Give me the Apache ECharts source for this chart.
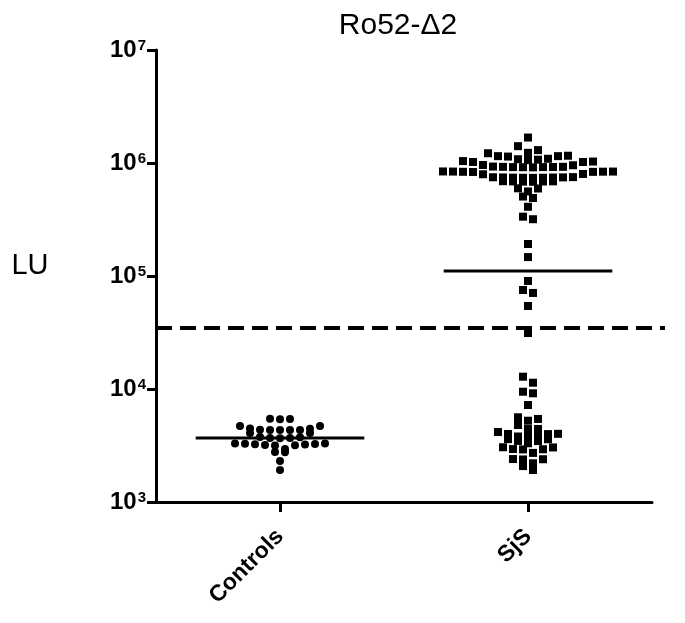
<!DOCTYPE html>
<html>
<head>
<meta charset="utf-8">
<script src="https://cdn.jsdelivr.net/npm/echarts@6/dist/echarts.min.js"></script>
<style>
html,body{margin:0;padding:0;background:#fff;}
#chart{width:685px;height:623px;}
</style>
</head>
<body>
<div id="chart"></div>
<script>
// ---------- data ----------
const chartTitle = 'Ro52-Δ2';
const yAxisTitle = 'LU';
const categories = ['Controls', 'SjS'];
const yTickValues = [1e3, 1e4, 1e5, 1e6, 1e7];
const cutoffValue = 34700;

const controlsValues = [
  5450, 5430, 5410, 4710, 4700, 4470, 4460, 4340, 4350, 4330, 4340, 4345,
  4080, 4070, 3760, 3750, 3680, 3690, 3670,
  3300, 3260, 3220, 3180, 3240, 3280, 3200, 3290, 3170,
  2940, 2770, 2760, 2310, 1920
];

const sjsHighValues = [
  1680000, 1410000, 1300000, 1230000, 1220000, 1150000, 1160000, 1140000, 1150000,
  1090000, 1020000, 1080000, 1030000, 1070000, 1040000, 1060000, 1020000,
  960000, 955000, 925000, 920000, 915000, 930000, 920000, 925000, 918000, 922000,
  840000, 835000, 838000, 842000, 833000, 836000, 840000,
  800000, 795000, 745000, 740000, 748000, 742000, 746000, 744000, 739000, 750000, 741000,
  686000, 690000, 682000, 688000, 684000, 687000,
  597000, 595000, 560000, 505000, 490000, 410000, 335000, 318000
];
const sjsMidValues = [192000, 147000, 90400, 75200, 70800, 54300, 31300];
const sjsLowValues = [
  12850, 11370, 9460, 9160, 7220, 5620, 5430, 5240, 4800, 4430, 4420, 4160,
  4000, 4010, 3990, 3790, 3800, 3780, 3590, 3600, 3470, 3460, 3310,
  3050, 3040, 2930, 2940, 2920, 2720, 2390, 2400, 2380, 2200, 2080, 1920
];
const sjsValues = sjsHighValues.concat(sjsMidValues, sjsLowValues);

// ---------- style / layout constants ----------
const FONT = 'Liberation Sans, Arial, Helvetica, sans-serif';
const ROW_PX = 7;       // vertical extent of one swarm row
const STEP_PX = 10;     // horizontal spacing in swarm
const MEAN_HALF = 0.34; // half width of mean line (category units)
const DASH_EXTEND_PX = 13;

function geoMean(arr) {
  return Math.pow(10, arr.reduce((s, v) => s + Math.log10(v), 0) / arr.length);
}

const chart = echarts.init(document.getElementById('chart'), null, { renderer: 'canvas' });

const baseOption = {
  animation: false,
  backgroundColor: '#fff',
  grid: { left: 156, right: 33, top: 50, bottom: 121, containLabel: false },
  xAxis: [
    {
      type: 'category', data: categories, boundaryGap: true,
      axisLine: { show: true, lineStyle: { color: '#000', width: 3 } },
      axisTick: { show: true, alignWithLabel: true, length: 10, lineStyle: { color: '#000', width: 3 } },
      axisLabel: { rotate: 45, margin: 31, color: '#000', fontSize: 23, fontWeight: 'bold', fontFamily: FONT },
      splitLine: { show: false }
    },
    { type: 'value', min: 0, max: 2, show: false }
  ],
  yAxis: {
    type: 'log', logBase: 10, min: yTickValues[0], max: yTickValues[yTickValues.length - 1],
    axisLine: { show: true, lineStyle: { color: '#000', width: 3 } },
    axisTick: { show: true, length: 9, lineStyle: { color: '#000', width: 3 } },
    minorTick: { show: false },
    splitLine: { show: false },
    axisLabel: {
      margin: 10,
      formatter: function (v) {
        const e = Math.round(Math.log10(v));
        return '{b|10}{s|' + e + '}';
      },
      rich: {
        b: { fontSize: 24, fontWeight: 'bold', fontFamily: FONT, color: '#000', lineHeight: 24, verticalAlign: 'bottom' },
        s: { fontSize: 15, fontWeight: 'bold', fontFamily: FONT, color: '#000', lineHeight: 15, verticalAlign: 'top', padding: [0, 0, 0, 1] }
      }
    }
  },
  graphic: [
    { type: 'text', x: 398, y: 26, style: { text: chartTitle, font: '30px ' + FONT, fill: '#000', textAlign: 'center', textVerticalAlign: 'middle' } },
    { type: 'text', x: 30, y: 266, style: { text: yAxisTitle, font: '29px ' + FONT, fill: '#000', textAlign: 'center', textVerticalAlign: 'middle' } }
  ],
  series: [
    { type: 'scatter', xAxisIndex: 1, yAxisIndex: 0, data: [] }
  ]
};
chart.setOption(baseOption);

// row-based swarm: nearby points share a row, spread centre-out (lowest in the middle)
function swarm(values, center) {
  const pts = values.map(v => ({ v: v, y: chart.convertToPixel({ yAxisIndex: 0 }, v) }));
  pts.sort((a, b) => a.y - b.y);
  const rows = [];
  let cur = null;
  pts.forEach(p => {
    if (!cur || p.y >= cur.y0 + ROW_PX) { cur = { y0: p.y, pts: [] }; rows.push(cur); }
    cur.pts.push(p);
  });
  rows.forEach(r => {
    const n = r.pts.length;
    const sorted = r.pts.slice().sort((a, b) => b.y - a.y);
    const slots = [];
    for (let i = 0; i < n; i++) slots.push(i - (n - 1) / 2);
    slots.sort((a, b) => (Math.abs(a) - Math.abs(b)) || (b - a));
    sorted.forEach((p, i) => { p.dx = slots[i] * STEP_PX; });
  });
  const unitPx = chart.convertToPixel({ xAxisIndex: 1 }, 1) - chart.convertToPixel({ xAxisIndex: 1 }, 0);
  return pts.map(p => [center + p.dx / unitPx, p.v]);
}

const controlsData = swarm(controlsValues, 0.5);
const sjsData = swarm(sjsValues, 1.5);
const meanData = [[0.5, geoMean(controlsValues)], [1.5, geoMean(sjsValues)]];

chart.setOption({
  series: [
    {
      type: 'custom', xAxisIndex: 1, yAxisIndex: 0, clip: false, z: 3,
      data: [[0, cutoffValue]],
      renderItem: function (params, api) {
        const a = api.coord([0, api.value(1)]);
        const b = api.coord([2, api.value(1)]);
        return { type: 'line', shape: { x1: a[0], y1: a[1], x2: b[0] + DASH_EXTEND_PX, y2: b[1] },
          style: { stroke: '#000', lineWidth: 4, lineDash: [16, 8] } };
      }
    },
    {
      type: 'scatter', name: categories[0], xAxisIndex: 1, yAxisIndex: 0, z: 4,
      symbol: 'circle', symbolSize: 8, itemStyle: { color: '#000', opacity: 1 },
      data: controlsData
    },
    {
      type: 'scatter', name: categories[1], xAxisIndex: 1, yAxisIndex: 0, z: 4,
      symbol: 'rect', symbolSize: 8, itemStyle: { color: '#000', opacity: 1 },
      data: sjsData
    },
    {
      type: 'custom', xAxisIndex: 1, yAxisIndex: 0, clip: false, z: 5,
      data: meanData,
      renderItem: function (params, api) {
        const x = api.value(0), y = api.value(1);
        const a = api.coord([x - MEAN_HALF, y]);
        const b = api.coord([x + MEAN_HALF, y]);
        return { type: 'line', shape: { x1: a[0], y1: a[1], x2: b[0], y2: b[1] },
          style: { stroke: '#000', lineWidth: 3 } };
      }
    }
  ]
});
</script>
</body>
</html>
